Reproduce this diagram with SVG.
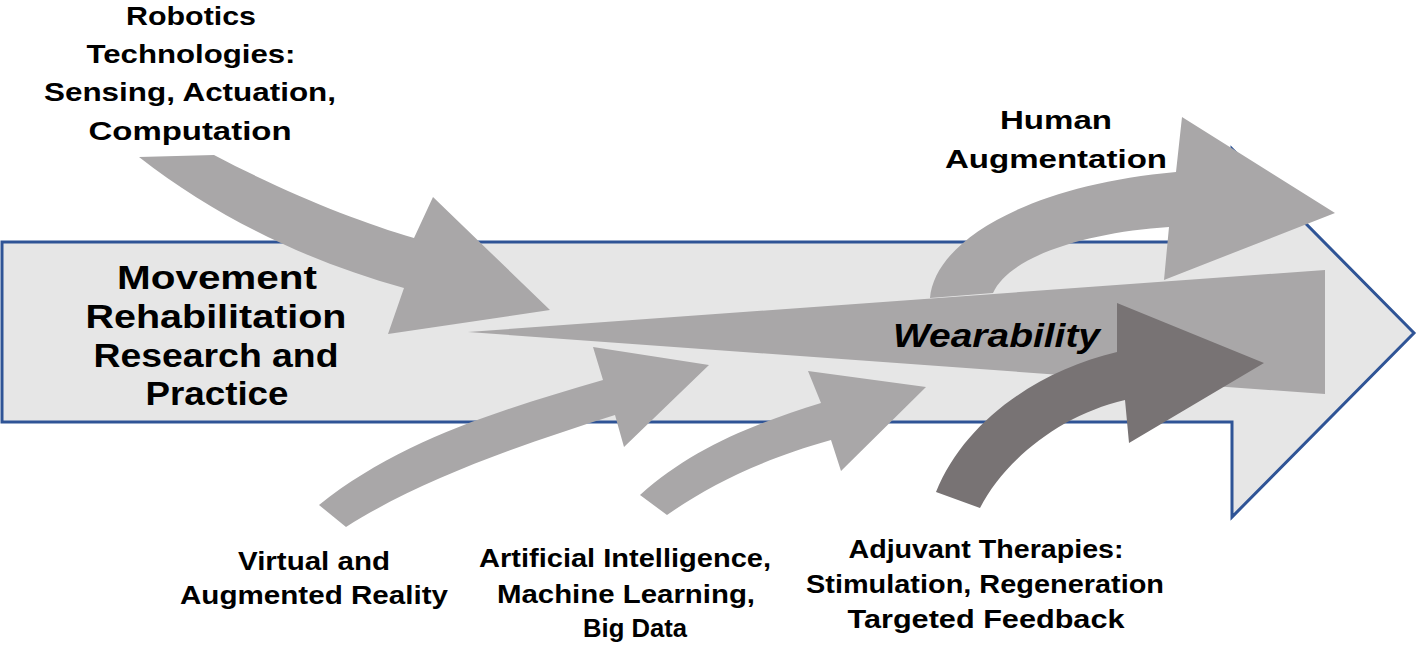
<svg xmlns="http://www.w3.org/2000/svg" width="1418" height="646" viewBox="0 0 1418 646">
<style>
.lbl{font-family:"Liberation Sans",Arial,sans-serif;font-weight:bold;font-size:25px;fill:#000;text-anchor:middle}
.big{font-family:"Liberation Sans",Arial,sans-serif;font-weight:bold;font-size:33px;fill:#000;text-anchor:middle}
.ital{font-family:"Liberation Sans",Arial,sans-serif;font-weight:bold;font-style:italic;font-size:34px;fill:#000}
.lt{fill:#A9A7A8}
.dk{fill:#787374}
</style>
<rect width="1418" height="646" fill="#fff"/>
<g id="node-main">
<polygon points="2,242 1232,242 1232,149 1414,333 1232,517 1232,422 2,422" fill="#E6E6E6" stroke="#2F5496" stroke-width="3" stroke-linejoin="miter"/>
</g>
<g id="connectors">
<path id="arrow-robotics" class="lt" d="M214,155 C 290,195 360,222 414,238 L433,197 L550,310 L388,334 L404,288 C 310,262 220,220 139,157 Z"/>
<path id="arrow-wearability" class="lt" d="M468,332 L1325,270 L1325,394 Z"/>
<path id="arrow-human" class="lt" d="M930,298 C 935,240 1030,185 1176,172 L1182,117 L1335,213 L1164,280 L1169,227 C 1090,232 1010,255 993,293 Z"/>
<path id="arrow-virtual" class="lt" d="M319,505 C 400,440 500,410 603,380 L593,347 L709,365 L624,447 L615,415 C 520,445 420,480 346,527 Z"/>
<path id="arrow-ai" class="lt" d="M640,495 C 690,450 750,425 821,403 L808,371 L926,387 L841,471 L831,440 C 760,460 710,485 667,515 Z"/>
<path id="arrow-adjuvant" class="dk" d="M936,492 C 965,420 1040,370 1117,352 L1117,303 L1264,363 L1129,443 L1125,400 C 1060,415 1005,460 980,508 Z"/>
</g>
<g id="node-movement">
<text class="big" x="217" y="289" textLength="200" lengthAdjust="spacingAndGlyphs">Movement</text>
<text class="big" x="216" y="328" textLength="261" lengthAdjust="spacingAndGlyphs">Rehabilitation</text>
<text class="big" x="216" y="367" textLength="245" lengthAdjust="spacingAndGlyphs">Research and</text>
<text class="big" x="217" y="405" textLength="143" lengthAdjust="spacingAndGlyphs">Practice</text>
</g>
<g id="node-robotics">
<text class="lbl" x="191" y="25" textLength="130" lengthAdjust="spacingAndGlyphs">Robotics</text>
<text class="lbl" x="191" y="63" textLength="209" lengthAdjust="spacingAndGlyphs">Technologies:</text>
<text class="lbl" x="190" y="101" textLength="292" lengthAdjust="spacingAndGlyphs">Sensing, Actuation,</text>
<text class="lbl" x="190" y="140" textLength="203" lengthAdjust="spacingAndGlyphs">Computation</text>
</g>
<g id="node-human">
<text class="lbl" x="1056" y="129" textLength="112" lengthAdjust="spacingAndGlyphs">Human</text>
<text class="lbl" x="1056" y="168" textLength="222" lengthAdjust="spacingAndGlyphs">Augmentation</text>
</g>
<g id="node-wearability">
<text class="ital" x="893" y="347" textLength="207" lengthAdjust="spacingAndGlyphs">Wearability</text>
</g>
<g id="node-virtual">
<text class="lbl" x="314" y="570" textLength="152" lengthAdjust="spacingAndGlyphs">Virtual and</text>
<text class="lbl" x="314" y="604" textLength="268" lengthAdjust="spacingAndGlyphs">Augmented Reality</text>
</g>
<g id="node-ai">
<text class="lbl" x="625" y="567" textLength="292" lengthAdjust="spacingAndGlyphs">Artificial Intelligence,</text>
<text class="lbl" x="626" y="603" textLength="258" lengthAdjust="spacingAndGlyphs">Machine Learning,</text>
<text class="lbl" x="635" y="637" textLength="104" lengthAdjust="spacingAndGlyphs">Big Data</text>
</g>
<g id="node-adjuvant">
<text class="lbl" x="986" y="558" textLength="275" lengthAdjust="spacingAndGlyphs">Adjuvant Therapies:</text>
<text class="lbl" x="985" y="593" textLength="358" lengthAdjust="spacingAndGlyphs">Stimulation, Regeneration</text>
<text class="lbl" x="986" y="628" textLength="277" lengthAdjust="spacingAndGlyphs">Targeted Feedback</text>
</g>
</svg>
